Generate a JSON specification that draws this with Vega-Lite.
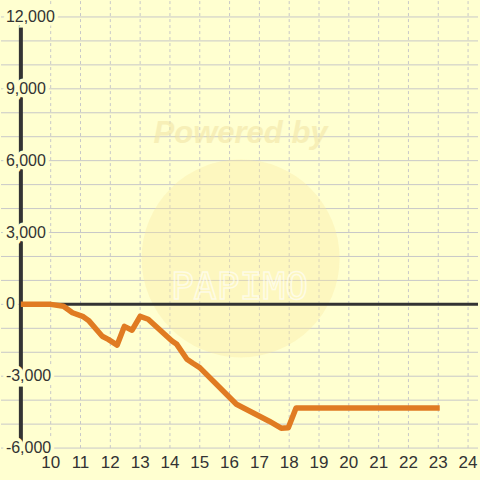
{
  "$schema": "https://vega.github.io/schema/vega-lite/v6.json",
  "width": 480,
  "height": 480,
  "autosize": {"type": "fit", "contains": "padding"},
  "padding": 0,
  "background": "#FFFFD0",
  "config": {"view": {"stroke": null}},
  "datasets": {
    "series": [
      {"hour": 9, "value": 0},
      {"hour": 10, "value": 0},
      {"hour": 10.43, "value": -80},
      {"hour": 10.73, "value": -350},
      {"hour": 11.07, "value": -500},
      {"hour": 11.27, "value": -670},
      {"hour": 11.73, "value": -1330},
      {"hour": 11.93, "value": -1460},
      {"hour": 12.23, "value": -1700},
      {"hour": 12.47, "value": -920},
      {"hour": 12.73, "value": -1080},
      {"hour": 13.0, "value": -500},
      {"hour": 13.27, "value": -620},
      {"hour": 14.07, "value": -1530},
      {"hour": 14.23, "value": -1670},
      {"hour": 14.57, "value": -2290},
      {"hour": 14.77, "value": -2460},
      {"hour": 15.0, "value": -2640},
      {"hour": 16.23, "value": -4170},
      {"hour": 17.33, "value": -4880},
      {"hour": 17.73, "value": -5170},
      {"hour": 17.97, "value": -5150},
      {"hour": 18.23, "value": -4330},
      {"hour": 23.05, "value": -4330}
    ],
    "yticks": [
      {"v": -6000}, {"v": -5000}, {"v": -4000}, {"v": -3000}, {"v": -2000}, {"v": -1000},
      {"v": 0}, {"v": 1000}, {"v": 2000}, {"v": 3000}, {"v": 4000}, {"v": 5000},
      {"v": 6000}, {"v": 7000}, {"v": 8000}, {"v": 9000}, {"v": 10000}, {"v": 11000}, {"v": 12000}
    ],
    "ylabels": [
      {"v": -6000, "label": "-6,000"}, {"v": -3000, "label": "-3,000"}, {"v": 0, "label": "0"},
      {"v": 3000, "label": "3,000"}, {"v": 6000, "label": "6,000"}, {"v": 9000, "label": "9,000"},
      {"v": 12000, "label": "12,000"}
    ],
    "xticks": [
      {"h": 10}, {"h": 11}, {"h": 12}, {"h": 13}, {"h": 14}, {"h": 15}, {"h": 16}, {"h": 17},
      {"h": 18}, {"h": 19}, {"h": 20}, {"h": 21}, {"h": 22}, {"h": 23}, {"h": 24}
    ],
    "watermark": [{"h": 16.37, "v": 1920}]
  },
  "layer": [
    {
      "data": {"name": "yticks"},
      "mark": {"type": "rule", "color": "#C8C8C8", "strokeWidth": 1},
      "encoding": {
        "y": {"field": "v", "type": "quantitative", "scale": {"domain": [-7333.33, 12666.67], "nice": false, "zero": false}, "axis": null}
      }
    },
    {
      "data": {"name": "xticks"},
      "mark": {"type": "rule", "color": "#C8C8C8", "strokeWidth": 1, "strokeDash": [3, 3]},
      "encoding": {
        "x": {"field": "h", "type": "quantitative", "scale": {"domain": [8.3333, 24.3333], "nice": false, "zero": false}, "axis": null},
        "y": {"datum": -6000},
        "y2": {"datum": 12666.67}
      }
    },
    {
      "data": {"name": "watermark"},
      "mark": {"type": "point", "filled": true, "shape": "circle", "color": "#F8E9A0", "opacity": 0.35, "size": 39200},
      "encoding": {
        "x": {"field": "h", "type": "quantitative"},
        "y": {"field": "v", "type": "quantitative"}
      }
    },
    {
      "data": {"name": "watermark"},
      "mark": {"type": "text", "text": "Powered by", "font": "Liberation Sans", "fontSize": 31, "fontWeight": "bold", "fontStyle": "italic", "color": "#F2E6A8", "opacity": 0.6, "baseline": "middle", "align": "center", "dy": -124},
      "encoding": {
        "x": {"field": "h", "type": "quantitative"},
        "y": {"field": "v", "type": "quantitative"}
      }
    },
    {
      "data": {"name": "watermark"},
      "mark": {"type": "text", "text": "PAPIMO", "font": "DejaVu Sans Mono", "fontSize": 38, "fill": null, "stroke": "#FFFFFF", "strokeWidth": 1.5, "opacity": 0.6, "baseline": "middle", "align": "center", "dy": 30, "dx": -1},
      "encoding": {
        "x": {"field": "h", "type": "quantitative"},
        "y": {"field": "v", "type": "quantitative"}
      }
    },
    {
      "data": {"values": [{}]},
      "mark": {"type": "rule", "color": "#333333", "strokeWidth": 3},
      "encoding": {
        "x": {"datum": 9},
        "x2": {"datum": 24.3333},
        "y": {"datum": 0}
      }
    },
    {
      "data": {"values": [{}]},
      "mark": {"type": "rule", "color": "#333333", "strokeWidth": 4},
      "encoding": {
        "x": {"datum": 9},
        "y": {"datum": -6000},
        "y2": {"datum": 12000}
      }
    },
    {
      "data": {"name": "series"},
      "mark": {"type": "line", "color": "#E07B22", "strokeWidth": 5.5, "strokeJoin": "round", "strokeCap": "butt"},
      "encoding": {
        "x": {"field": "hour", "type": "quantitative"},
        "y": {"field": "value", "type": "quantitative"}
      }
    },
    {
      "data": {"name": "ylabels"},
      "mark": {"type": "text", "font": "Liberation Sans", "fontSize": 16, "align": "left", "baseline": "middle", "dx": -15, "color": "#FFFFD0", "stroke": "#FFFFD0", "strokeWidth": 7},
      "encoding": {
        "x": {"datum": 9},
        "y": {"field": "v", "type": "quantitative"},
        "text": {"field": "label"}
      }
    },
    {
      "data": {"name": "ylabels"},
      "mark": {"type": "text", "font": "Liberation Sans", "fontSize": 16, "align": "left", "baseline": "middle", "dx": -15, "color": "#333333"},
      "encoding": {
        "x": {"datum": 9},
        "y": {"field": "v", "type": "quantitative"},
        "text": {"field": "label"}
      }
    },
    {
      "data": {"name": "xticks"},
      "mark": {"type": "text", "font": "Liberation Sans", "fontSize": 17, "align": "center", "baseline": "middle", "dy": 15, "color": "#333333"},
      "encoding": {
        "x": {"field": "h", "type": "quantitative"},
        "y": {"datum": -6000},
        "text": {"field": "h", "type": "quantitative"}
      }
    }
  ]
}
